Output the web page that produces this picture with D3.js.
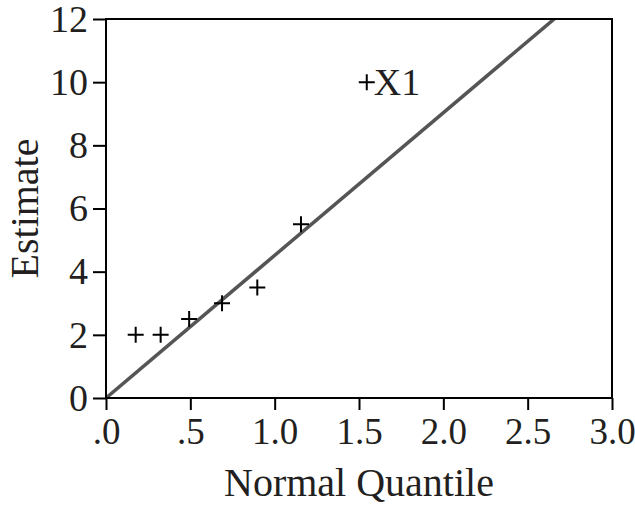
<!DOCTYPE html>
<html>
<head>
<meta charset="utf-8">
<script src="https://cdn.jsdelivr.net/npm/d3@7"></script>
<style>
  body { margin: 0; background: #fff; }
  text { font-family: "Liberation Serif", "DejaVu Serif", serif; fill: #231f20; }
</style>
</head>
<body>
<div id="chart"></div>
<script>
// data
var quantiles = [0.176, 0.324, 0.493, 0.688, 0.897, 1.156, 1.546];
var estimates = [2, 2, 2.5, 3, 3.5, 5.5, 10];
var pointLabels = ["", "", "", "", "", "", "X1"];
var xTicks = [0, 0.5, 1, 1.5, 2, 2.5, 3];
var yTicks = [0, 2, 4, 6, 8, 10, 12];
var fitSlope = 4.516; // line through origin

var w = 635, h = 511;
var margin = {top: 19, right: 23, bottom: 113, left: 106};

var svg = d3.select("#chart").append("svg")
  .attr("width", w)
  .attr("height", h);

var x = d3.scaleLinear().domain([0, 3]).range([margin.left, w - margin.right]);
var y = d3.scaleLinear().domain([0, 12]).range([h - margin.bottom, margin.top]);

// clip for the fit line
svg.append("clipPath").attr("id", "plot")
  .append("rect")
  .attr("x", x(0)).attr("y", y(12))
  .attr("width", x(3) - x(0)).attr("height", y(0) - y(12));

// fit line
svg.append("line")
  .attr("clip-path", "url(#plot)")
  .attr("x1", x(0)).attr("y1", y(0))
  .attr("x2", x(3)).attr("y2", y(3 * fitSlope))
  .attr("stroke", "#555")
  .attr("stroke-width", 3.5);

// frame
svg.append("rect")
  .attr("x", x(0)).attr("y", y(12))
  .attr("width", x(3) - x(0)).attr("height", y(0) - y(12))
  .attr("fill", "none")
  .attr("stroke", "#000")
  .attr("stroke-width", 2);

// x axis
var xAxis = d3.axisBottom(x)
  .tickValues(xTicks)
  .tickSize(12)
  .tickPadding(8)
  .tickFormat(function(d) { return d < 1 ? "." + Math.round(d * 10) : d3.format(".1f")(d); });

svg.append("g")
  .attr("transform", "translate(0," + y(0) + ")")
  .call(xAxis)
  .call(function(g) {
    g.select(".domain").remove();
    g.selectAll("line").attr("stroke", "#000").attr("stroke-width", 2);
    g.selectAll("text").attr("font-size", 37).attr("font-family", "Liberation Serif").attr("fill", "#231f20");
  });

// y axis
var yAxis = d3.axisLeft(y)
  .tickValues(yTicks)
  .tickSize(13)
  .tickPadding(5);

svg.append("g")
  .attr("transform", "translate(" + x(0) + ",0)")
  .call(yAxis)
  .call(function(g) {
    g.select(".domain").remove();
    g.selectAll("line").attr("stroke", "#000").attr("stroke-width", 2);
    g.selectAll("text").attr("font-size", 38).attr("font-family", "Liberation Serif").attr("fill", "#231f20");
  });

// points as plus marks
var pts = quantiles.map(function(q, i) { return {q: q, e: estimates[i], label: pointLabels[i]}; });

svg.selectAll("path.pt")
  .data(pts)
  .enter()
  .append("path")
  .attr("class", "pt")
  .attr("d", function(d) {
    var cx = x(d.q), cy = y(d.e), s = 8;
    return "M" + (cx - s) + "," + cy + "H" + (cx + s) + "M" + cx + "," + (cy - s) + "V" + (cy + s);
  })
  .attr("stroke", "#000")
  .attr("stroke-width", 2)
  .attr("fill", "none");

svg.selectAll("text.pl")
  .data(pts.filter(function(d) { return d.label; }))
  .enter()
  .append("text")
  .attr("class", "pl")
  .attr("x", function(d) { return x(d.q) + 7; })
  .attr("y", function(d) { return y(d.e); })
  .attr("dy", "0.35em")
  .attr("font-size", 38)
  .text(function(d) { return d.label; });

// axis titles
svg.append("text")
  .attr("x", (x(0) + x(3)) / 2)
  .attr("y", 496)
  .attr("text-anchor", "middle")
  .attr("font-size", 40)
  .text("Normal Quantile");

svg.append("text")
  .attr("transform", "translate(38," + (y(6)) + ") rotate(-90)")
  .attr("text-anchor", "middle")
  .attr("font-size", 40)
  .text("Estimate");
</script>
</body>
</html>
